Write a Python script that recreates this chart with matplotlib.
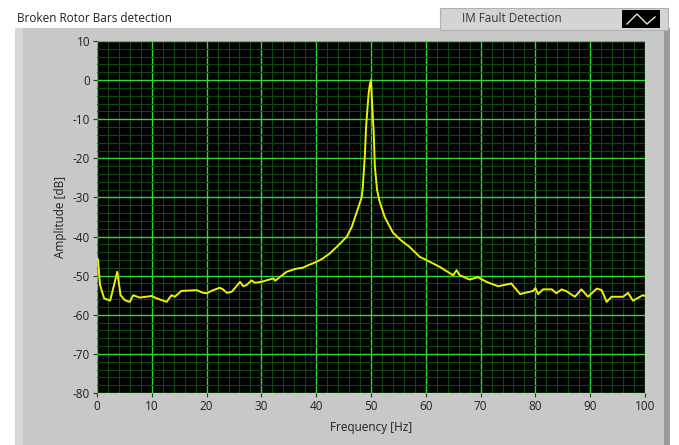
import matplotlib
matplotlib.use("Agg")
import matplotlib.pyplot as plt
from matplotlib.patches import Rectangle

# Spectrum (Hz, dB)
freq = [0.0, 0.2, 0.55, 1.3, 2.4, 3.0, 3.7, 4.3, 5.1, 6.0, 6.6, 7.8, 10.0, 10.9,
        12.7, 13.6, 14.2, 15.4, 18.2, 19.4, 20.0, 21.2, 22.4, 23.0, 23.7, 24.6,
        26.1, 26.7, 27.3, 28.2, 28.8, 30.0, 30.9, 32.2, 32.5, 33.4, 34.6, 36.4,
        37.5, 38.6, 39.5, 41.0, 42.5, 44.0, 45.6, 46.5, 47.1, 47.7, 48.3, 48.5,
        48.9, 49.1, 49.4, 49.6, 49.8, 50.0, 50.2, 50.5, 50.7, 51.1, 51.5, 52.5,
        54.0, 55.5, 57.0, 58.9, 60.1, 62.6, 65.0, 65.6, 66.2, 68.0, 69.5, 71.1,
        73.2, 75.6, 77.2, 79.6, 80.0, 80.5, 81.4, 83.0, 83.8, 84.8, 85.7, 87.2,
        88.4, 89.6, 91.2, 92.1, 93.0, 93.9, 96.0, 96.9, 97.8, 99.6, 100.0]
amp = [-45.5, -46.0, -52.4, -55.8, -56.4, -53.0, -49.0, -55.0, -56.3, -56.7,
       -55.0, -55.6, -55.2, -55.8, -56.7, -55.0, -55.4, -53.9, -53.7, -54.4,
       -54.5, -53.7, -53.1, -53.5, -54.4, -54.1, -51.6, -52.7, -52.4, -51.2,
       -51.8, -51.6, -51.2, -50.7, -51.3, -50.3, -49.0, -48.2, -48.0, -47.3,
       -46.8, -45.8, -44.3, -42.3, -40.0, -37.5, -35.0, -32.5, -30.0, -27.4,
       -18.7, -12.0, -6.4, -3.0, -1.0, 0.0, -5.9, -13.6, -22.0, -28.0, -30.7,
       -35.0, -39.0, -41.0, -42.6, -45.2, -46.0, -47.8, -49.9, -48.6, -49.9,
       -51.0, -50.4, -51.6, -52.7, -52.0, -54.7, -53.9, -53.2, -54.7, -53.5,
       -53.5, -54.5, -53.5, -54.0, -55.4, -53.5, -55.4, -53.3, -53.7, -56.7,
       -55.4, -55.4, -54.4, -56.4, -55.0, -55.2]

x_ticks = list(range(0, 101, 10))
y_ticks = list(range(-80, 11, 10))

plt.rcParams['font.family'] = ['Open Sans', 'DejaVu Sans']
plt.rcParams['axes.unicode_minus'] = False

W, H = 679, 445
fig = plt.figure(figsize=(W / 100, H / 100), dpi=100)
fig.patch.set_facecolor("white")

# gray front panel behind the graph
fig.patches.append(Rectangle((15 / W, 0), 653 / W, 1 - 28 / H, transform=fig.transFigure,
                             facecolor="#c8c8c8", edgecolor="none", zorder=-3))
fig.patches.append(Rectangle((15 / W, 0), 8 / W, 1 - 28 / H, transform=fig.transFigure,
                             facecolor="#d8d8d8", edgecolor="none", zorder=-2))
fig.patches.append(Rectangle((664 / W, 0), 6 / W, 1 - 28 / H, transform=fig.transFigure,
                             facecolor="#9a9a9a", edgecolor="none", zorder=-2))

# plot legend box top right
fig.patches.append(Rectangle((440 / W, 1 - 30 / H), 228 / W, 22 / H, transform=fig.transFigure,
                             facecolor="#d4d4d4", edgecolor="#b0b0b0", lw=0.8, zorder=1))
fig.patches.append(Rectangle((622 / W, 1 - 28 / H), 38 / W, 18 / H, transform=fig.transFigure,
                             facecolor="black", edgecolor="none", zorder=2))
fig.lines.append(plt.Line2D([627 / W, 637 / W, 647 / W, 655 / W],
                            [1 - 24 / H, 1 - 14 / H, 1 - 24 / H, 1 - 17 / H],
                            transform=fig.transFigure, color="#e8e8b0", lw=1, zorder=3))
fig.text(462 / W, 1 - 19 / H, "IM Fault Detection", fontsize=8.5, color="#353535",
         va="center", ha="left")
fig.text(17 / W, 1 - 18 / H, "Broken Rotor Bars detection", fontsize=8.5,
         color="#202020", va="center", ha="left")

ax = fig.add_axes([97 / W, 1 - 393 / H, 548 / W, 352 / H])
ax.set_zorder(5)
ax.set_facecolor("black")
ax.plot(freq, amp, color="#f0f000", lw=1.4, zorder=3)

ax.set_xlim(0, 100)
ax.set_ylim(-80, 10)
ax.set_xticks(x_ticks)
ax.set_yticks(y_ticks)
ax.set_xticks(range(0, 101, 2), minor=True)
ax.set_yticks(range(-80, 11, 2), minor=True)
ax.grid(which="major", color="#30d830", lw=1.0, zorder=1)
ax.grid(which="minor", color="#0a4a0a", lw=0.8, zorder=0)
ax.tick_params(which="minor", length=0)
ax.tick_params(which="major", length=3, color="#303030", labelsize=8.5,
               labelcolor="#202020", pad=2)
for s in ax.spines.values():
    s.set_visible(False)

ax.set_xlabel("Frequency [Hz]", fontsize=8.5, color="#202020", labelpad=6)
ax.set_ylabel("Amplitude [dB]", fontsize=8.5, color="#202020", labelpad=4)

fig.savefig("out.png", dpi=100)
